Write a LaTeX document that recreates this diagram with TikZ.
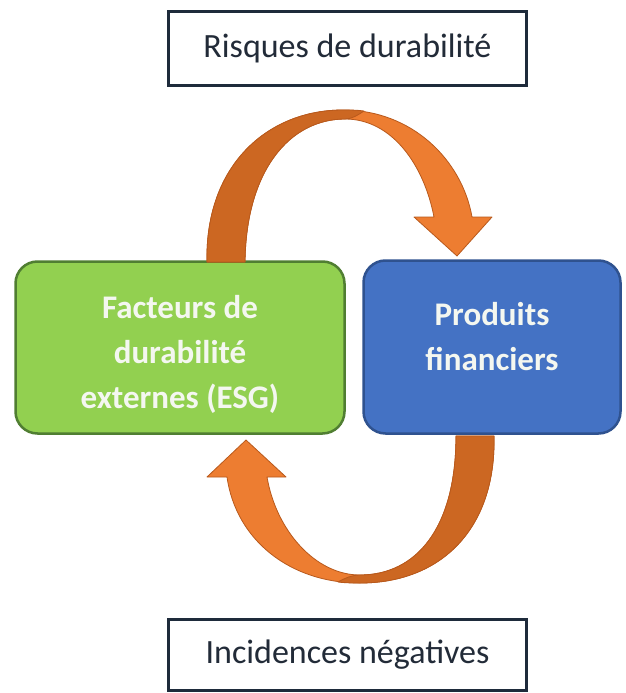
\documentclass[tikz,border=0pt]{standalone}
\usepackage{fontspec}
\setmainfont{Carlito}
\definecolor{lightor}{HTML}{ED7D31}
\definecolor{darkor}{HTML}{CC6722}
\definecolor{orline}{HTML}{B8591C}
\definecolor{greenfill}{HTML}{92D050}
\definecolor{greenline}{HTML}{507E32}
\definecolor{bluefill}{HTML}{4472C4}
\definecolor{blueline}{HTML}{2F528F}
\definecolor{navyline}{HTML}{1E2B3B}
\definecolor{labeltext}{HTML}{222B38}
\definecolor{boxtextcol}{HTML}{F4F7F0}
\begin{document}
\begin{tikzpicture}[x=1pt,y=-1pt,
  labelbox/.style={draw=navyline, line width=3pt, fill=white, minimum width=358pt, inner sep=0pt},
  labeltxt/.style={text=labeltext, font=\fontsize{34}{40}\selectfont},
  roundbox/.style={line width=2.5pt, rounded corners=22pt, inner sep=0pt},
  boxtxt/.style={text=boxtextcol, font=\fontsize{33}{45}\bfseries\selectfont, align=center, inner sep=0pt},
  arrowbody/.style={fill=lightor, draw=orline, line width=0.8pt, line join=round},
  arrowshade/.style={fill=darkor, draw=orline, line width=0.8pt, line join=round}]
\useasboundingbox[fill=white] (0,0) rectangle (625,693);

% boxes
\node[labelbox, minimum height=74pt] (risk) at (347.5,48.5) {};
\node[labeltxt] (risktext) at (risk.center) {Risques de durabilité};
\node[labelbox, minimum height=71pt] (neg) at (347.5,655) {};
\node[labeltxt] (negtext) at (neg.center) {Incidences négatives};

\node[roundbox, draw=greenline, fill=greenfill, minimum width=329pt, minimum height=172pt] (esg) at (180,347.5) {};
\node[boxtxt] (esgtext) at ([yshift=-7pt]esg.center) {Facteurs de\\durabilité\\externes (ESG)};
\node[roundbox, draw=blueline, fill=bluefill, minimum width=257pt, minimum height=173pt] (prod) at (492,347) {};
\node[boxtxt] (prodtext) at ([yshift=10pt]prod.center) {Produits\\financiers};

% top curved arrow (from ESG box up and over to the products box)
\path[arrowbody]
  (207,262) .. controls (205,165) and (268,110) .. (343,110)
  .. controls (412,110) and (462,160) .. (472,217)
  -- (492,217) -- (457,256) -- (414,217) -- (434,217)
  .. controls (424,165) and (392,119) .. (345,119)
  .. controls (290,119) and (246,170) .. (245,262) -- cycle;
\path[arrowshade]
  (207,262) .. controls (205,165) and (268,110) .. (343,110)
  .. controls (350,110) and (357,110) .. (364,111)
  .. controls (358,115) and (352,119) .. (345,119)
  .. controls (290,119) and (246,170) .. (245,262) -- cycle;

% bottom curved arrow (from products box down and around to ESG box)
\path[arrowbody]
  (494,436) .. controls (496,530) and (440,583) .. (360,583)
  .. controls (290,583) and (236,540) .. (227,477)
  -- (207,477) -- (246,440) -- (286,477) -- (267,477)
  .. controls (276,530) and (315,575) .. (360,575)
  .. controls (415,575) and (456,530) .. (456,436) -- cycle;
\path[arrowshade]
  (494,436) .. controls (496,530) and (440,583) .. (360,583)
  .. controls (353,583) and (346,583) .. (338,582)
  .. controls (345,578) and (352,575) .. (360,575)
  .. controls (415,575) and (456,530) .. (456,436) -- cycle;
\end{tikzpicture}
\end{document}
